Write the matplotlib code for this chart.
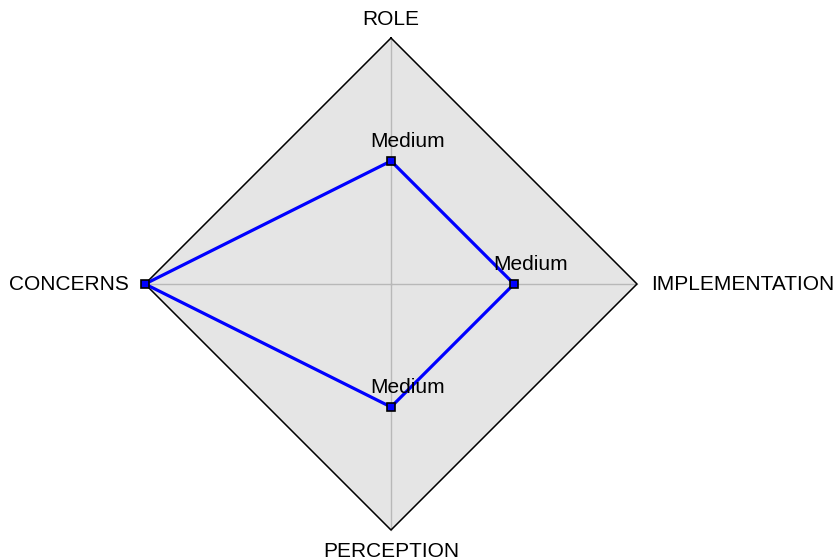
import matplotlib
matplotlib.use("Agg")
import matplotlib.pyplot as plt
import numpy as np

# axes, clockwise from the top
axis_names = ["ROLE", "IMPLEMENTATION", "PERCEPTION", "CONCERNS"]
values = [0.5, 0.5, 0.5, 1.0]
value_labels = ["Medium", "Medium", "Medium", ""]
r_max = 1.0

plt.rcParams["font.family"] = ["Liberation Sans", "DejaVu Sans"]
plt.rcParams["font.size"] = 15

fig = plt.figure(figsize=(8.39, 5.6), dpi=100)
ax = fig.add_axes([0, 0, 1, 1])
ax.set_xlim(-391 / 246, (839 - 391) / 246)
ax.set_ylim(-276 / 246, 284 / 246)
ax.axis("off")

# angles: top, right, bottom, left
theta = np.pi / 2 - np.arange(len(axis_names)) * 2 * np.pi / len(axis_names)
ox, oy = r_max * np.cos(theta), r_max * np.sin(theta)

# background diamond
ax.fill(ox, oy, color="#e5e5e5", zorder=1)
ax.plot(np.append(ox, ox[0]), np.append(oy, oy[0]), color="black", lw=1.1, zorder=3)
for x, y in zip(ox, oy):
    ax.plot([0, x], [0, y], color="#b8b8b8", lw=1.0, zorder=2)

# data
v = np.array(values)
px, py = v * np.cos(theta), v * np.sin(theta)
ax.plot(np.append(px, px[0]), np.append(py, py[0]), color="#0000ff", lw=2.3, zorder=4)
ax.plot(px, py, ls="none", marker="s", ms=6.3, mfc="#0000ff", mec="black", mew=1.2, zorder=5)

for x, y, lab in zip(px, py, value_labels):
    if lab:
        ax.annotate(lab, (x, y), xytext=(17, 14), textcoords="offset pixels",
                    ha="center", va="baseline", zorder=6)

# axis titles
ax.annotate(axis_names[0], (ox[0], oy[0]), xytext=(0, 13), textcoords="offset pixels",
            ha="center", va="baseline")
ax.annotate(axis_names[1], (ox[1], oy[1]), xytext=(14, 0), textcoords="offset pixels",
            ha="left", va="center")
ax.annotate(axis_names[2], (ox[2], oy[2]), xytext=(0, -12), textcoords="offset pixels",
            ha="center", va="top")
ax.annotate(axis_names[3], (ox[3], oy[3]), xytext=(-16, 0), textcoords="offset pixels",
            ha="right", va="center")

fig.savefig("out.png", dpi=100)
